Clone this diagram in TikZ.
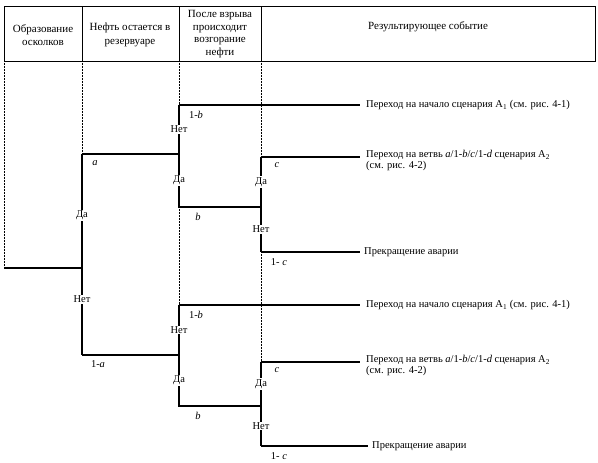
\documentclass[tikz,border=0pt]{standalone}
\usepackage{fontspec}
\setmainfont{Liberation Serif}
\usetikzlibrary{positioning}

\begin{document}
\begin{tikzpicture}[x=1pt, y=-1pt,
  every node/.style={font=\fontsize{10.5}{13}\selectfont},
  head/.style={align=center, font=\fontsize{11}{13.5}\selectfont},
  branch/.style={line width=1.2pt},
  guide/.style={densely dotted, line width=0.5pt},
  answer/.style={fill=white, inner sep=1pt},
  prob/.style={inner sep=0pt},
  outcome/.style={anchor=west, align=left, inner xsep=6pt, inner ysep=0pt}]
  \useasboundingbox (0,0) rectangle (598,463);

  % header table
  \draw[line width=0.6pt] (4,6) rectangle (595,61);
  \foreach \x in {82,179,261} \draw[line width=0.6pt] (\x,6) -- (\x,61);
  \node[head] (hfrag) at (43,35) {Образование\\осколков};
  \node[head] (hstay) at (130,35) {Нефть остается в\\резервуаре};
  \node[head, font=\fontsize{11}{12.5}\selectfont] (hfire) at (220,34) {После взрыва\\происходит\\возгорание\\нефти};
  \node[head] (hresult) at (428,27) {Результирующее событие};

  % first fork
  \coordinate (root) at (4,268);
  \coordinate (fork) at (82,268);
  \coordinate (ya) at (82,154);
  \coordinate (na) at (82,355);
  \draw[branch] (root) -- (fork);
  \draw[branch] (ya) -- node[answer, pos=0.54] {Да} (fork) -- node[answer, pos=0.36] {Нет} (na);
  \node[prob] (pa) at ([shift={(13,9)}]ya) {\textit{a}};
  \node[prob] (pna) at ([shift={(16,9)}]na) {1-\textit{a}};

  % the two sub-trees
  \foreach \g/\t/\j/\b/\c/\n/\e in {1/105/154/207/157/252/360, 2/305/355/406/362/446/368} {
    \coordinate (nb\g) at (179,\t);
    \coordinate (j\g) at (179,\j);
    \coordinate (yb\g) at (179,\b);
    \coordinate (yc\g) at (261,\c);
    \coordinate (k\g) at (261,\b);
    \coordinate (nc\g) at (261,\n);
    \draw[branch] (nb\g) -- node[answer] {Нет} (j\g) -- node[answer] {Да} (yb\g) -- (k\g);
    \draw[branch] (yc\g) -- node[answer] {Да} (k\g) -- node[answer] {Нет} (nc\g);
    % outcomes
    \node[outcome] (ostart\g) at (360,\t) {Переход на начало сценария A\textsubscript{1} (см. рис. 4-1)};
    \node[outcome, anchor=north west, font=\fontsize{10.5}{11.5}\selectfont] (obranch\g) at (360,\c-7)
      {Переход на ветвь \textit{a}/1-\textit{b}/\textit{c}/1-\textit{d} сценария A\textsubscript{2}\\(см. рис. 4-2)};
    \node[outcome, inner xsep=4pt] (ostop\g) at (\e,\n) {Прекращение аварии};
    \draw[branch] (nb\g) -- (ostart\g.west);
    \draw[branch] (yc\g) -- (yc\g -| obranch\g.west);
    \draw[branch] (nc\g) -- (ostop\g.west);
    % probabilities
    \node[prob] (pnb\g) at ([shift={(17,10)}]nb\g) {1-\textit{b}};
    \node[prob] (pb\g) at ([shift={(19,10)}]yb\g) {\textit{b}};
    \node[prob] (pc\g) at ([shift={(16,8)}]yc\g) {\textit{c}};
    \node[prob] (pnc\g) at ([shift={(18,10)}]nc\g) {1- \textit{c}};
  }
  \draw[branch] (ya) -- (j1);
  \draw[branch] (na) -- (j2);

  % dotted guides from the header
  \draw[guide] (4,61) -- (root);
  \draw[guide] (82,61) -- (ya);
  \draw[guide] (179,61) -- (nb1);
  \draw[guide] (yb1) -- (nb2);
  \draw[guide] (261,61) -- (yc1);
  \draw[guide] (nc1) -- (yc2);
\end{tikzpicture}
\end{document}
